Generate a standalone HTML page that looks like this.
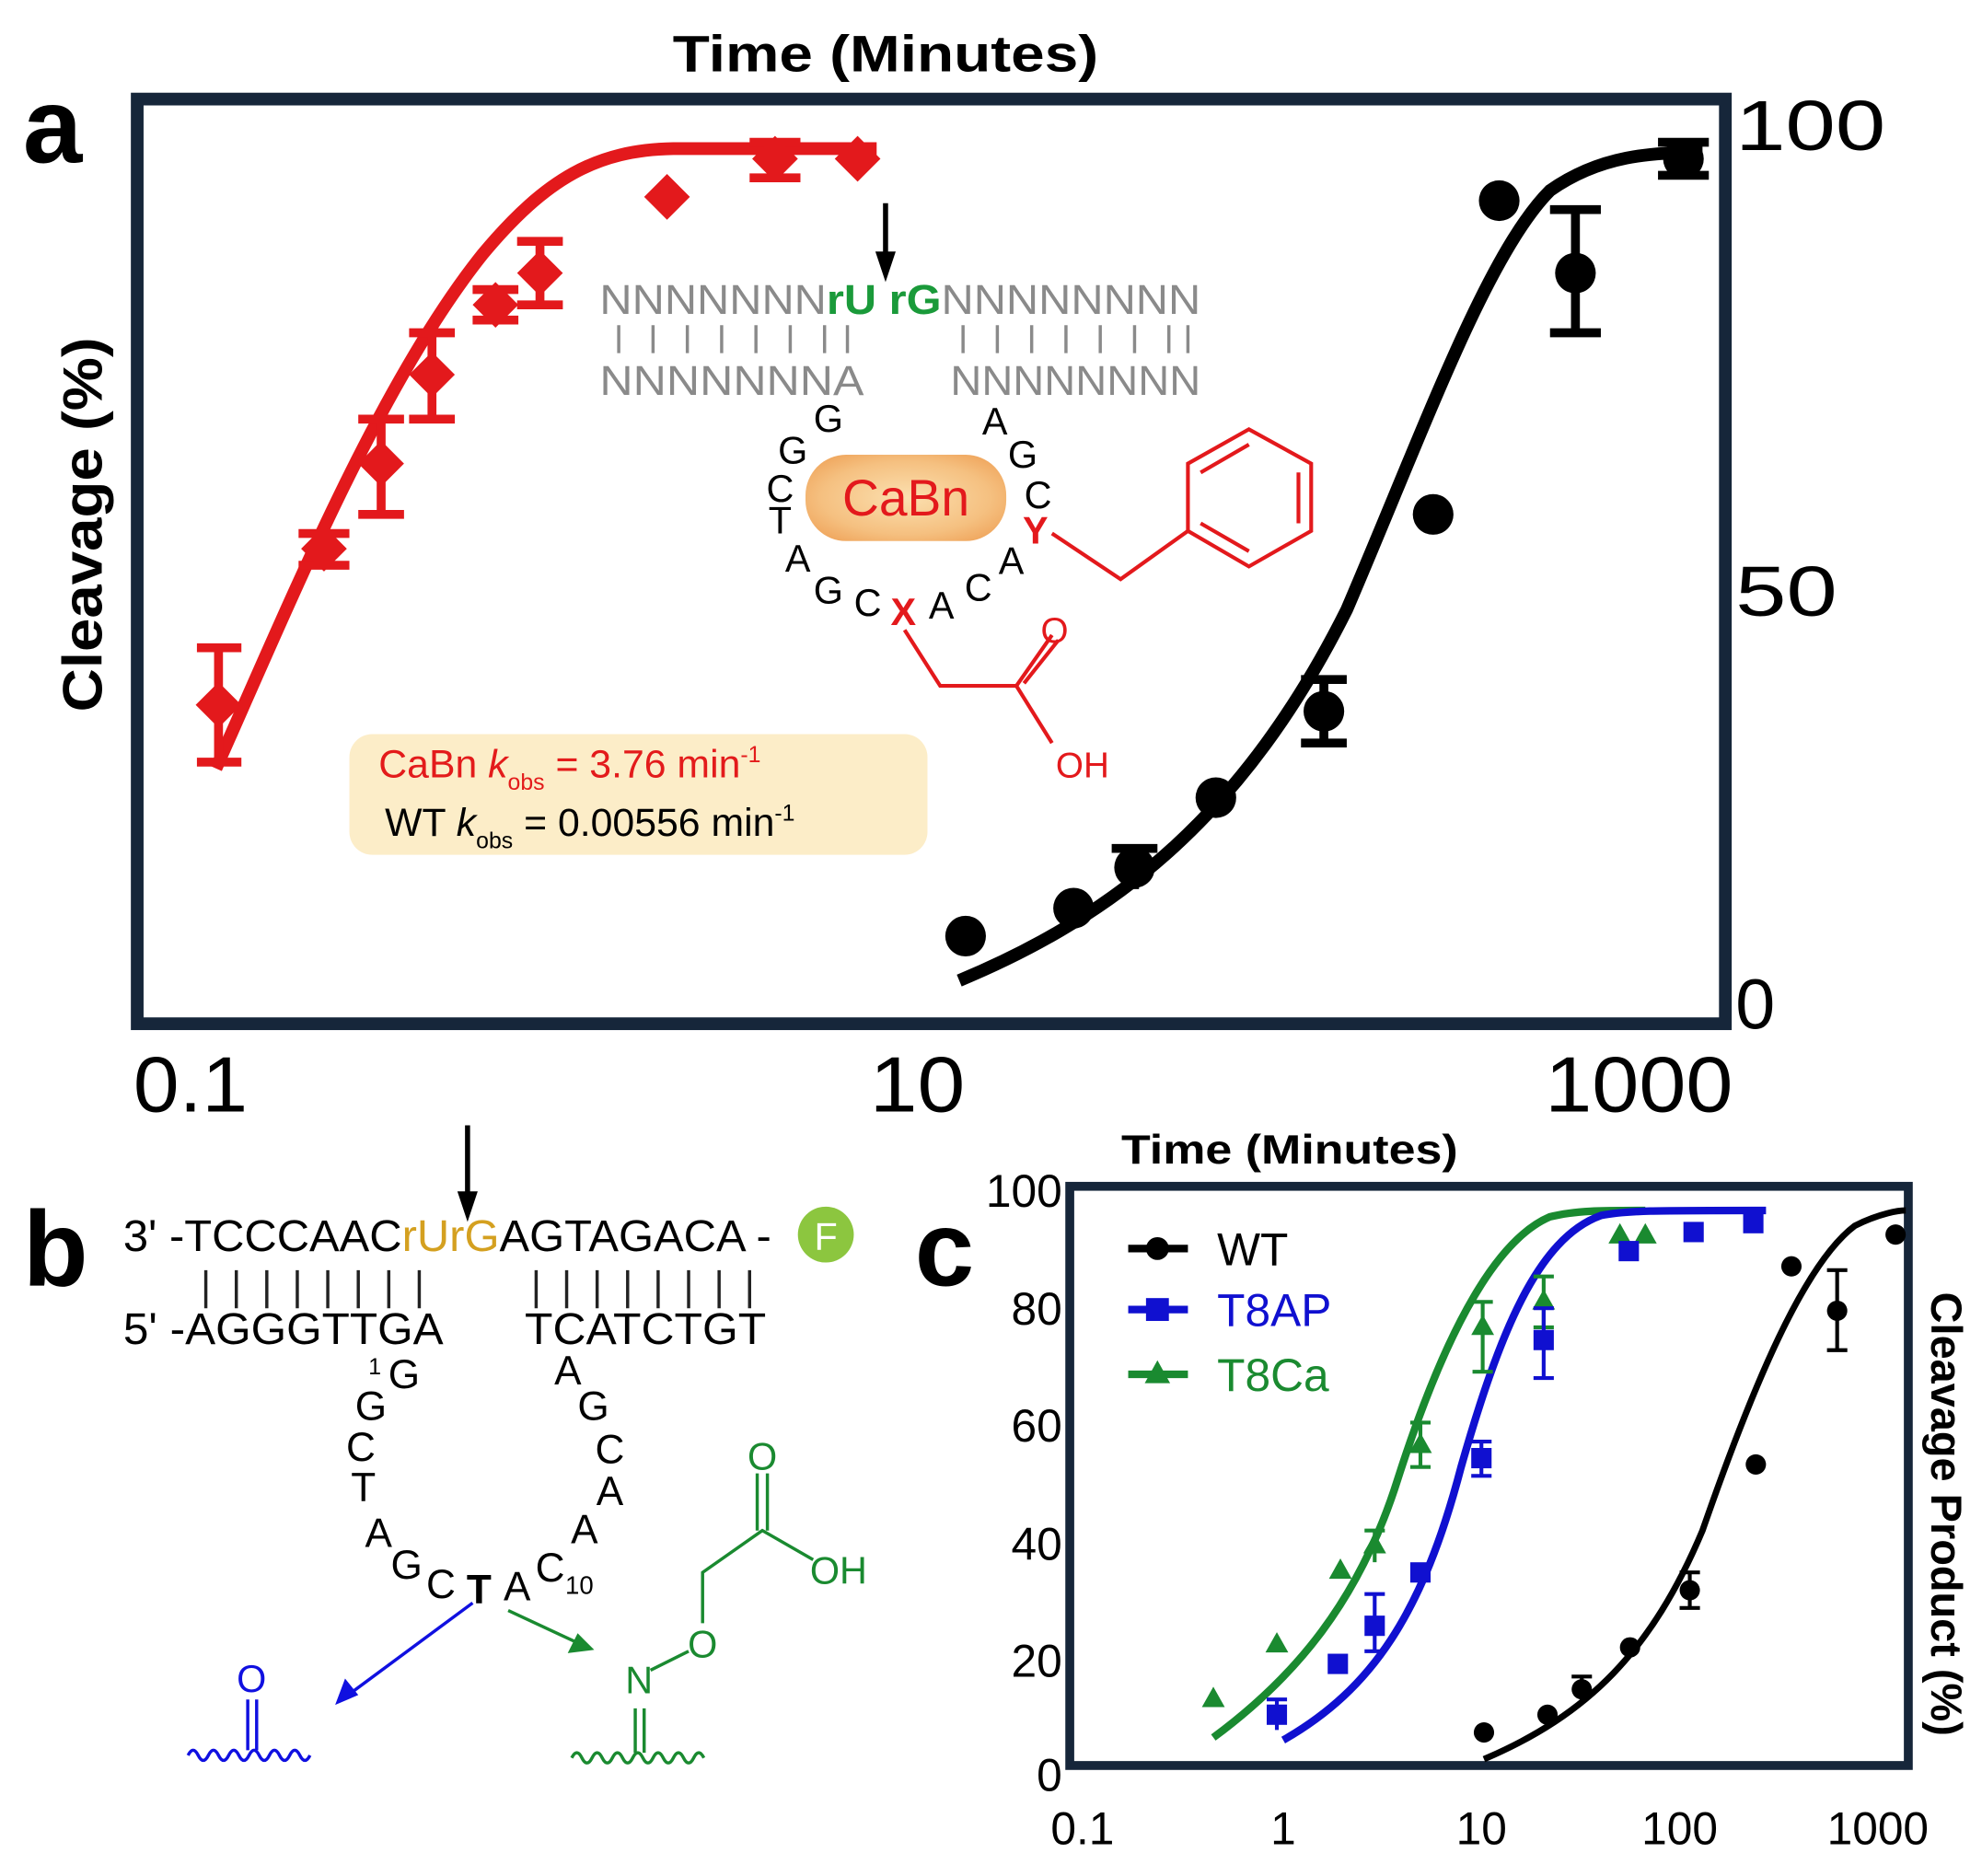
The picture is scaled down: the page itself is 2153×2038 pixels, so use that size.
<!DOCTYPE html>
<html><head><meta charset="utf-8"><style>
html,body{margin:0;padding:0;background:#fff}
svg{display:block}
text{font-family:"Liberation Sans",Arial,sans-serif}
</style></head><body>
<svg width="2153" height="2038" viewBox="0 0 1560 1477" preserveAspectRatio="none" xmlns="http://www.w3.org/2000/svg">
<defs>
<radialGradient id="og" cx="50%" cy="50%" r="60%"><stop offset="0" stop-color="#fbe0b0"/><stop offset="0.7" stop-color="#f5c080"/><stop offset="1" stop-color="#f0a860"/></radialGradient>
</defs>
<!-- Panel a -->
<text x="697" y="56" font-size="40" font-weight="bold" text-anchor="middle" textLength="335" lengthAdjust="spacingAndGlyphs">Time (Minutes)</text>
<text x="18" y="128" font-size="84" font-weight="bold">a</text>
<rect x="108" y="78" width="1250" height="728" fill="none" stroke="#16263a" stroke-width="10"/>
<text transform="translate(80,413) rotate(-90)" font-size="44" font-weight="bold" text-anchor="middle" textLength="295" lengthAdjust="spacingAndGlyphs">Cleavage (%)</text>
<text x="1366" y="118" font-size="56" textLength="118" lengthAdjust="spacingAndGlyphs">100</text>
<text x="1366" y="485" font-size="56" textLength="80" lengthAdjust="spacingAndGlyphs">50</text>
<text x="1366" y="810" font-size="56">0</text>
<text x="150" y="875" font-size="62" text-anchor="middle" textLength="90" lengthAdjust="spacingAndGlyphs">0.1</text>
<text x="722" y="875" font-size="62" text-anchor="middle" textLength="75" lengthAdjust="spacingAndGlyphs">10</text>
<text x="1290" y="875" font-size="62" text-anchor="middle" textLength="148" lengthAdjust="spacingAndGlyphs">1000</text>

<!-- legend box -->
<rect x="275" y="578" width="455" height="95" rx="18" fill="#fcedc8"/>
<text x="298" y="612" font-size="31" fill="#e31b1b">CaBn <tspan font-style="italic">k</tspan><tspan font-size="18" dy="10">obs</tspan><tspan dy="-10"> = 3.76 min</tspan><tspan font-size="18" dy="-12">-1</tspan></text>
<text x="303" y="658" font-size="31">WT <tspan font-style="italic">k</tspan><tspan font-size="18" dy="10">obs</tspan><tspan dy="-10"> = 0.00556 min</tspan><tspan font-size="18" dy="-12">-1</tspan></text>

<!-- red series -->
<path d="M170,605 C230,470 300,300 380,200 C430,140 470,118 530,117 L690,117" fill="none" stroke="#e3191c" stroke-width="10"/>
<g stroke="#e3191c" stroke-width="7" fill="none">
<path d="M172,510 V600 M155,510 H190 M155,600 H190"/>
<path d="M300,330 V405 M282,330 H318 M282,405 H318"/>
<path d="M340,262 V330 M322,262 H358 M322,330 H358"/>
<path d="M425,190 V240 M407,190 H443 M407,240 H443"/>
<path d="M610,112 V140 M590,112 H630 M590,140 H630"/>
<path d="M255,420 V445 M235,420 H275 M235,445 H275"/>
<path d="M390,228 V252 M372,228 H408 M372,252 H408"/>
</g>
<g fill="#e3191c">
<path d="M172,537 l18,18 l-18,18 l-18,-18z"/>
<path d="M255,414 l18,18 l-18,18 l-18,-18z"/>
<path d="M300,347 l18,18 l-18,18 l-18,-18z"/>
<path d="M340,277 l18,18 l-18,18 l-18,-18z"/>
<path d="M390,222 l18,18 l-18,18 l-18,-18z"/>
<path d="M425,197 l18,18 l-18,18 l-18,-18z"/>
<path d="M525,137 l18,18 l-18,18 l-18,-18z"/>
<path d="M610,107 l18,18 l-18,18 l-18,-18z"/>
<path d="M675,107 l18,18 l-18,18 l-18,-18z"/>
</g>

<!-- black series -->
<path d="M755,772 C880,720 980,640 1060,480 C1120,340 1170,200 1220,150 C1260,122 1300,120 1340,120" fill="none" stroke="#000" stroke-width="10"/>
<g stroke="#000" stroke-width="7" fill="none">
<path d="M893,668 V700 M875,668 H911"/>
<path d="M1042,535 V585 M1024,535 H1060 M1024,585 H1060"/>
<path d="M1240,165 V262 M1220,165 H1260 M1220,262 H1260"/>
<path d="M1325,112 V138 M1305,112 H1345 M1305,138 H1345"/>
</g>
<g fill="#000">
<circle cx="760" cy="737" r="16"/><circle cx="845" cy="715" r="16"/><circle cx="893" cy="683" r="16"/>
<circle cx="957" cy="628" r="16"/><circle cx="1042" cy="560" r="16"/><circle cx="1128" cy="405" r="16"/>
<circle cx="1180" cy="158" r="16"/><circle cx="1240" cy="215" r="16"/><circle cx="1325" cy="125" r="16"/>
</g>

<!-- inset diagram a -->
<path d="M697,160 V205" stroke="#000" stroke-width="4"/><path d="M689,198 L697,222 L705,198z" fill="#000"/>
<text x="472" y="247" font-size="33" fill="#8a8a8a" textLength="473" lengthAdjust="spacingAndGlyphs">NNNNNNN<tspan fill="#1a9a3a" font-weight="bold">rU rG</tspan>NNNNNNNN</text>
<g stroke="#8a8a8a" stroke-width="2.5">
<path d="M487,256 V278 M514,256 V278 M541,256 V278 M568,256 V278 M595,256 V278 M622,256 V278 M649,256 V278 M667,256 V278"/>
<path d="M758,256 V278 M785,256 V278 M812,256 V278 M839,256 V278 M866,256 V278 M893,256 V278 M920,256 V278 M935,256 V278"/>
</g>
<text x="472" y="311" font-size="33" fill="#8a8a8a" textLength="208" lengthAdjust="spacingAndGlyphs">NNNNNNNA</text>
<text x="748" y="311" font-size="33" fill="#8a8a8a" textLength="197" lengthAdjust="spacingAndGlyphs">NNNNNNNN</text>
<g font-size="30" text-anchor="middle">
<text x="652" y="340">G</text><text x="624" y="365">G</text><text x="614" y="395">C</text><text x="614" y="420">T</text>
<text x="628" y="450">A</text><text x="652" y="475">G</text><text x="683" y="485">C</text>
<text x="711" y="492" fill="#e3191c" font-weight="bold">X</text>
<text x="741" y="487">A</text><text x="770" y="473">C</text><text x="796" y="452">A</text>
<text x="815" y="428" fill="#e3191c" font-weight="bold">Y</text>
<text x="817" y="400">C</text><text x="805" y="368">G</text><text x="783" y="342">A</text>
</g>
<rect x="634" y="358" width="158" height="68" rx="32" fill="url(#og)"/>
<text x="713" y="406" font-size="40" fill="#e3191c" text-anchor="middle">CaBn</text>
<g stroke="#e3191c" stroke-width="3" fill="none">
<path d="M828,420 L882,456 L935,418"/>
<path d="M935,418 L935,365 L983,338 L1032,365 L1032,418 L983,446 Z"/>
<path d="M945,372 L983,350 M1022,372 L1022,412 M945,412 L983,434"/>
<path d="M712,496 L740,540 L800,540 L828,500 M806,538 L833,504"/>
<path d="M800,540 L828,585"/>
</g>
<text x="830" y="506" font-size="28" fill="#e3191c" text-anchor="middle">O</text>
<text x="852" y="612" font-size="28" fill="#e3191c" text-anchor="middle">OH</text>

<!-- Panel b -->
<text x="18" y="1012" font-size="84" font-weight="bold">b</text>
<path d="M368,886 V945" stroke="#000" stroke-width="4"/><path d="M360,938 L368,962 L376,938z" fill="#000"/>
<text x="97" y="985" font-size="35" textLength="510" lengthAdjust="spacingAndGlyphs">3' -TCCCAAC<tspan fill="#d4a020">rUrG</tspan>AGTAGACA -</text>
<circle cx="650" cy="972" r="22" fill="#8cc63f"/>
<text x="650" y="984" font-size="30" fill="#fff" text-anchor="middle">F</text>
<g stroke="#222" stroke-width="2.5">
<path d="M162,1000 V1030 M186,1000 V1030 M210,1000 V1030 M234,1000 V1030 M258,1000 V1030 M282,1000 V1030 M306,1000 V1030 M330,1000 V1030"/>
<path d="M422,1000 V1030 M446,1000 V1030 M470,1000 V1030 M494,1000 V1030 M518,1000 V1030 M542,1000 V1030 M566,1000 V1030 M590,1000 V1030"/>
</g>
<text x="97" y="1058" font-size="35" textLength="252" lengthAdjust="spacingAndGlyphs">5' -AGGGTTGA</text>
<text x="413" y="1058" font-size="35" textLength="190" lengthAdjust="spacingAndGlyphs">TCATCTGT</text>
<g font-size="32" text-anchor="middle">
<text x="295" y="1082" font-size="18">1</text><text x="318" y="1093">G</text>
<text x="292" y="1118">G</text><text x="284" y="1150">C</text><text x="286" y="1182">T</text>
<text x="298" y="1218">A</text><text x="320" y="1243">G</text><text x="347" y="1258">C</text>
<text x="377" y="1262" font-weight="bold">T</text><text x="407" y="1260">A</text>
<text x="433" y="1245">C</text><text x="456" y="1255" font-size="20">10</text>
<text x="460" y="1215">A</text><text x="480" y="1185">A</text><text x="480" y="1152">C</text>
<text x="467" y="1118">G</text><text x="447" y="1090">A</text>
</g>
<g stroke="#1010e0" stroke-width="2.5" fill="none">
<path d="M372,1262 L272,1336"/><path d="M266,1340 l6,-16 l8,10z" fill="#1010e0"/>
<path d="M195,1338 V1378 M202,1338 V1378"/>
<path d="M148,1382 q4,-8 8,0 t8,0 t8,0 t8,0 t8,0 t8,0 t8,0 t8,0 t8,0 t8,0 t8,0 t8,0"/>
</g>
<text x="198" y="1332" font-size="30" fill="#1010e0" text-anchor="middle">O</text>
<g stroke="#1a8a30" stroke-width="2.5" fill="none">
<path d="M400,1268 L458,1295"/><path d="M465,1298 l-16,2 l6,-12z" fill="#1a8a30"/>
<path d="M500,1345 V1380 M507,1345 V1380"/>
<path d="M450,1384 q4,-8 8,0 t8,0 t8,0 t8,0 t8,0 t8,0 t8,0 t8,0 t8,0 t8,0 t8,0 t8,0 t8,0"/>
<path d="M512,1315 L542,1300 M553,1278 L553,1238 L600,1205 L640,1228 M596,1205 V1160 M604,1205 V1160"/>
</g>
<g font-size="30" fill="#1a8a30" text-anchor="middle">
<text x="503" y="1333">N</text><text x="553" y="1305">O</text><text x="600" y="1157">O</text><text x="660" y="1247">OH</text>
</g>

<!-- Panel c -->
<text x="720" y="1012" font-size="84" font-weight="bold">c</text>
<text x="1015" y="916" font-size="32" font-weight="bold" text-anchor="middle" textLength="265" lengthAdjust="spacingAndGlyphs">Time (Minutes)</text>
<rect x="842" y="934" width="660" height="456" fill="none" stroke="#16263a" stroke-width="7"/>
<g font-size="36" text-anchor="end">
<text x="836" y="950">100</text><text x="836" y="1043">80</text><text x="836" y="1135">60</text>
<text x="836" y="1228">40</text><text x="836" y="1320">20</text><text x="836" y="1410">0</text>
</g>
<g font-size="36" text-anchor="middle">
<text x="852" y="1452">0.1</text><text x="1010" y="1452">1</text><text x="1166" y="1452">10</text>
<text x="1322" y="1452">100</text><text x="1478" y="1452">1000</text>
</g>
<text transform="translate(1520,1192) rotate(90)" font-size="34" font-weight="bold" text-anchor="middle">Cleavage Product (%)</text>
<!-- legend -->
<path d="M888,983 H935" stroke="#000" stroke-width="6"/><circle cx="911" cy="983" r="9"/>
<text x="958" y="996" font-size="36">WT</text>
<path d="M888,1031 H935" stroke="#1010d0" stroke-width="6"/><rect x="902" y="1022" width="18" height="18" fill="#1010d0"/>
<text x="958" y="1044" font-size="36" fill="#1010d0">T8AP</text>
<path d="M888,1082 H935" stroke="#1a8a30" stroke-width="6"/><path d="M911,1071 l10,18 h-20z" fill="#1a8a30"/>
<text x="958" y="1095" font-size="36" fill="#1a8a30">T8Ca</text>

<path d="M955,1368 C1020,1320 1070,1260 1100,1165 C1140,1040 1180,975 1220,958 C1240,953 1260,953 1295,953" fill="none" stroke="#1a8a30" stroke-width="6"/>
<path d="M1010,1370 C1080,1330 1120,1270 1150,1155 C1180,1050 1210,975 1260,957 C1280,953 1300,953 1390,953" fill="none" stroke="#1010d0" stroke-width="6"/>
<path d="M1168,1385 C1250,1350 1300,1300 1340,1205 C1380,1090 1420,995 1460,965 C1480,955 1495,953 1500,953" fill="none" stroke="#000" stroke-width="5"/>

<g stroke="#1a8a30" stroke-width="3">
<path d="M1118,1120 V1155 M1110,1120 H1126 M1110,1155 H1126"/>
<path d="M1167,1025 V1080 M1159,1025 H1175 M1159,1080 H1175"/>
<path d="M1215,1005 V1045 M1207,1005 H1223 M1207,1045 H1223"/>
<path d="M1082,1205 V1230 M1074,1205 H1090"/>
</g>
<g fill="#1a8a30">
<path d="M955,1328 l9,16 h-18z"/><path d="M1005,1285 l9,16 h-18z"/><path d="M1055,1227 l9,16 h-18z"/>
<path d="M1082,1207 l9,16 h-18z"/><path d="M1118,1128 l9,16 h-18z"/><path d="M1167,1035 l9,16 h-18z"/>
<path d="M1215,1015 l9,16 h-18z"/><path d="M1275,963 l9,16 h-18z"/><path d="M1295,963 l9,16 h-18z"/>
</g>
<g stroke="#1010d0" stroke-width="3">
<path d="M1082,1255 V1300 M1074,1255 H1090 M1074,1300 H1090"/>
<path d="M1166,1135 V1162 M1158,1135 H1174 M1158,1162 H1174"/>
<path d="M1215,1030 V1085 M1207,1030 H1223 M1207,1085 H1223"/>
<path d="M1005,1338 V1362 M997,1338 H1013"/>
</g>
<g fill="#1010d0">
<rect x="997" y="1342" width="16" height="16"/><rect x="1045" y="1302" width="16" height="16"/>
<rect x="1074" y="1272" width="16" height="16"/><rect x="1110" y="1230" width="16" height="16"/>
<rect x="1158" y="1140" width="16" height="16"/><rect x="1207" y="1047" width="16" height="16"/>
<rect x="1274" y="977" width="16" height="16"/><rect x="1325" y="962" width="16" height="16"/>
<rect x="1372" y="955" width="16" height="16"/>
</g>
<g stroke="#000" stroke-width="3">
<path d="M1446,1000 V1063 M1438,1000 H1454 M1438,1063 H1454"/>
<path d="M1330,1238 V1266 M1322,1238 H1338 M1322,1266 H1338"/>
<path d="M1245,1320 V1340 M1237,1320 H1253"/>
</g>
<g fill="#000">
<circle cx="1168" cy="1364" r="8"/><circle cx="1218" cy="1350" r="8"/><circle cx="1245" cy="1330" r="8"/>
<circle cx="1283" cy="1297" r="8"/><circle cx="1330" cy="1252" r="8"/><circle cx="1382" cy="1153" r="8"/>
<circle cx="1410" cy="997" r="8"/><circle cx="1446" cy="1032" r="8"/><circle cx="1492" cy="972" r="8"/>
</g>
</svg>
</body></html>
